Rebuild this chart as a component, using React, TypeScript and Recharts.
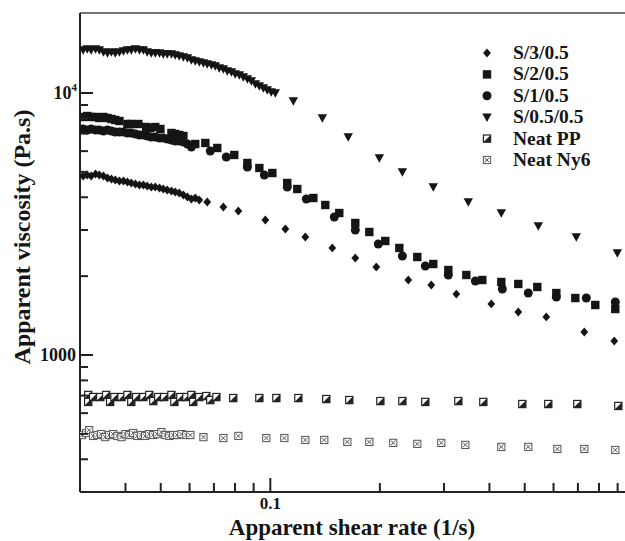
import { ScatterChart, Scatter, XAxis, YAxis, Legend, ReferenceLine } from 'recharts';

// S/0.5/0.5 (down triangles)
const s05Rate = [0.0306, 0.0314, 0.0322, 0.0331, 0.0339, 0.0348, 0.0357, 0.0366, 0.0375, 0.0385, 0.0395, 0.0405, 0.0415, 0.0426, 0.0437, 0.0448, 0.0459, 0.0471, 0.0483, 0.0496, 0.0508, 0.0521, 0.0535, 0.0548, 0.0562, 0.0577, 0.0592, 0.0607, 0.0622, 0.0638, 0.0655, 0.0671, 0.0689, 0.0706, 0.0724, 0.0743, 0.0762, 0.0782, 0.0801, 0.0822, 0.0843, 0.0865, 0.0887, 0.091, 0.0933, 0.0957, 0.0981, 0.1006, 0.1032, 0.1157, 0.139, 0.1637, 0.1993, 0.2306, 0.2804, 0.3499, 0.4312, 0.5449, 0.6929, 0.8982];
const s05Visc = [14593, 14722, 14593, 14722, 14593, 14339, 14214, 14339, 14214, 14339, 14466, 14593, 14593, 14722, 14593, 14593, 14339, 14214, 14214, 14214, 14089, 14089, 14089, 13966, 13844, 13723, 13603, 13366, 13249, 13134, 13019, 12905, 12793, 12681, 12460, 12351, 12136, 12030, 11820, 11717, 11513, 11313, 11116, 10828, 10639, 10449, 10267, 10088, 10000, 9321, 8028, 6794, 5650, 4994, 4377, 3837, 3483, 3108, 2821, 2451];

// S/2/0.5 (squares)
const s2Rate = [0.0306, 0.0314, 0.0322, 0.0331, 0.0339, 0.0348, 0.0357, 0.0366, 0.0375, 0.0385, 0.0405, 0.0415, 0.0434, 0.0456, 0.0468, 0.0483, 0.0499, 0.0535, 0.0548, 0.0562, 0.0577, 0.0622, 0.0663, 0.0715, 0.0796, 0.0865, 0.0933, 0.1013, 0.1113, 0.1186, 0.1313, 0.1416, 0.1547, 0.1712, 0.1871, 0.207, 0.2262, 0.2534, 0.2804, 0.3084, 0.3456, 0.3824, 0.4312, 0.4801, 0.5414, 0.6107, 0.6886, 0.7815, 0.8868];
const s2Visc = [8099, 8170, 8099, 8099, 8028, 8099, 8028, 7958, 7888, 7819, 7616, 7616, 7616, 7418, 7353, 7418, 7289, 7037, 6976, 6915, 6854, 6389, 6445, 6169, 5801, 5406, 5173, 4950, 4534, 4301, 3974, 3737, 3483, 3191, 2948, 2724, 2562, 2366, 2225, 2111, 2020, 1933, 1900, 1867, 1818, 1724, 1650, 1552, 1498];

// S/1/0.5 (circles)
const s1Rate = [0.0306, 0.0314, 0.0322, 0.0331, 0.0339, 0.0348, 0.0357, 0.0366, 0.0375, 0.0385, 0.0395, 0.0405, 0.0415, 0.0426, 0.0437, 0.0448, 0.0459, 0.0471, 0.0483, 0.0496, 0.0508, 0.0521, 0.0535, 0.0548, 0.0562, 0.0577, 0.0592, 0.0607, 0.0684, 0.0757, 0.0865, 0.0963, 0.1113, 0.1256, 0.1499, 0.1712, 0.198, 0.2306, 0.2666, 0.3084, 0.3659, 0.434, 0.5114, 0.6107, 0.7382, 0.8868];
const s1Visc = [7289, 7225, 7289, 7225, 7225, 7162, 7225, 7162, 7099, 7099, 7099, 7037, 7037, 6976, 6915, 6915, 6854, 6794, 6794, 6735, 6735, 6676, 6617, 6560, 6560, 6502, 6389, 6223, 6008, 5700, 5219, 4864, 4377, 3939, 3363, 3001, 2653, 2387, 2186, 2020, 1916, 1786, 1724, 1665, 1650, 1593];

// S/3/0.5 (diamonds)
const s3Rate = [0.0306, 0.0314, 0.0322, 0.0331, 0.0339, 0.0348, 0.0357, 0.0366, 0.0375, 0.0385, 0.0395, 0.0405, 0.0415, 0.0426, 0.0437, 0.0448, 0.0459, 0.0471, 0.0483, 0.0496, 0.0508, 0.0521, 0.0535, 0.0548, 0.0562, 0.0577, 0.0592, 0.0607, 0.0622, 0.0638, 0.0671, 0.0743, 0.0817, 0.0969, 0.11, 0.1248, 0.148, 0.1712, 0.1955, 0.2394, 0.2769, 0.3244, 0.4048, 0.4801, 0.5731, 0.7289, 0.8812];
const s3Visc = [4822, 4864, 4822, 4907, 4864, 4822, 4738, 4696, 4655, 4614, 4614, 4574, 4534, 4494, 4455, 4455, 4416, 4377, 4377, 4339, 4301, 4263, 4226, 4189, 4152, 4080, 4009, 3939, 3974, 3905, 3837, 3672, 3545, 3276, 3027, 2821, 2562, 2346, 2167, 1933, 1850, 1709, 1566, 1459, 1397, 1224, 1131];

// Neat PP
const ppRate = [0.0316, 0.0316, 0.0326, 0.0341, 0.0354, 0.0363, 0.0373, 0.039, 0.0405, 0.0415, 0.0428, 0.0448, 0.0465, 0.0477, 0.0492, 0.0511, 0.0535, 0.0545, 0.0566, 0.0588, 0.0607, 0.0614, 0.0638, 0.0667, 0.0684, 0.0711, 0.0791, 0.0933, 0.1039, 0.1194, 0.1425, 0.1648, 0.2006, 0.2306, 0.2666, 0.3285, 0.3848, 0.4924, 0.5804, 0.6974, 0.9038];
const ppVisc = [704, 662, 691, 691, 704, 662, 691, 691, 704, 662, 691, 691, 704, 667, 691, 691, 704, 662, 691, 691, 704, 662, 691, 697, 673, 691, 685, 685, 685, 685, 679, 673, 667, 667, 662, 667, 662, 650, 650, 650, 639];

// Neat Ny6
const nyRate = [0.0304, 0.0312, 0.0318, 0.0326, 0.0335, 0.0343, 0.0352, 0.0361, 0.037, 0.038, 0.039, 0.04, 0.041, 0.042, 0.0431, 0.0442, 0.0453, 0.0465, 0.0477, 0.0489, 0.0502, 0.0515, 0.0528, 0.0541, 0.0555, 0.057, 0.0588, 0.0603, 0.0655, 0.0743, 0.0817, 0.0975, 0.1093, 0.1248, 0.1407, 0.1628, 0.1871, 0.2177, 0.2534, 0.295, 0.3434, 0.4312, 0.5114, 0.6146, 0.7289, 0.8868];
const nyVisc = [495, 504, 517, 491, 495, 499, 486, 495, 499, 491, 486, 499, 495, 504, 491, 495, 491, 499, 495, 499, 508, 495, 491, 495, 495, 499, 495, 495, 486, 482, 491, 482, 482, 474, 474, 466, 466, 462, 458, 462, 454, 446, 446, 438, 438, 434];

const xTicks = [0.04, 0.05, 0.06, 0.07, 0.08, 0.09, 0.1, 0.2, 0.3, 0.4, 0.5, 0.6, 0.7, 0.8, 0.9];
const yTicks = [300, 400, 500, 600, 700, 800, 900, 1000, 2000, 3000, 4000, 5000, 6000, 7000, 8000, 9000, 10000];
const xLabeled = [0.1];
const yLabeled = [1000, 10000];

const FONT = '"Liberation Serif", "Times New Roman", serif';
const INK = '#151515';

const toPoints = (rate: number[], visc: number[]) => rate.map((x, i) => ({ x, y: visc[i] }));

function marker(kind: string, cx: number, cy: number) {
  switch (kind) {
    case 'diamond':
      return <path d={`M${cx},${cy - 4.4}L${cx + 3.9},${cy}L${cx},${cy + 4.4}L${cx - 3.9},${cy}Z`} fill={INK} />;
    case 'square':
      return <rect x={cx - 4.2} y={cy - 4.2} width={8.4} height={8.4} fill={INK} />;
    case 'circle':
      return <circle cx={cx} cy={cy} r={4.5} fill={INK} />;
    case 'triangle':
      return <path d={`M${cx - 4.7},${cy - 3.7}L${cx + 4.7},${cy - 3.7}L${cx},${cy + 4.7}Z`} fill={INK} />;
    case 'half':
      return (
        <g>
          <rect x={cx - 3.6} y={cy - 3.6} width={7.2} height={7.2} fill="#fff" stroke="#222" strokeWidth={1.2} />
          <path d={`M${cx + 3.6},${cy - 3.6}L${cx + 3.6},${cy + 3.6}L${cx - 3.6},${cy + 3.6}Z`} fill="#222" />
        </g>
      );
    default:
      return (
        <g stroke="#555" strokeWidth={1} fill="none">
          <rect x={cx - 3.6} y={cy - 3.6} width={7.2} height={7.2} fill="#fff" />
          <path d={`M${cx - 2.3},${cy - 2.3}L${cx + 2.3},${cy + 2.3}M${cx + 2.3},${cy - 2.3}L${cx - 2.3},${cy + 2.3}`} />
        </g>
      );
  }
}

const series = [
  { name: 'S/3/0.5', kind: 'diamond', data: toPoints(s3Rate, s3Visc) },
  { name: 'S/2/0.5', kind: 'square', data: toPoints(s2Rate, s2Visc) },
  { name: 'S/1/0.5', kind: 'circle', data: toPoints(s1Rate, s1Visc) },
  { name: 'S/0.5/0.5', kind: 'triangle', data: toPoints(s05Rate, s05Visc) },
  { name: 'Neat PP', kind: 'half', data: toPoints(ppRate, ppVisc) },
  { name: 'Neat Ny6', kind: 'boxx', data: toPoints(nyRate, nyVisc) },
];

function renderXTick(props: any) {
  const { x, y, payload } = props;
  const major = xLabeled.includes(payload.value);
  return (
    <g>
      <line x1={x} x2={x} y1={y} y2={y - (major ? 14 : 9)} stroke="#222" strokeWidth={2} />
      {major && (
        <text x={x} y={y + 17} textAnchor="middle" fontFamily={FONT} fontWeight="bold" fontSize={17} fill={INK}>
          {payload.value}
        </text>
      )}
    </g>
  );
}

function renderYTick(props: any) {
  const { x, y, payload } = props;
  const major = yLabeled.includes(payload.value);
  let label = null;
  if (payload.value === 1000) {
    label = (
      <text x={x - 4} y={y + 6} textAnchor="end" fontFamily={FONT} fontWeight="bold" fontSize={18} fill={INK}>
        1000
      </text>
    );
  } else if (payload.value === 10000) {
    label = (
      <text x={x - 3} y={y + 6} textAnchor="end" fontFamily={FONT} fontWeight="bold" fontSize={18} fill={INK}>
        10<tspan dy={-8} fontSize={11}>4</tspan>
      </text>
    );
  }
  return (
    <g>
      <line x1={x} x2={x + (major ? 13 : 8)} y1={y} y2={y} stroke="#222" strokeWidth={2} />
      {label}
    </g>
  );
}

function renderLegend() {
  return (
    <svg width={145} height={132}>
      {series.map((s, i) => {
        const cy = 11 + i * 21.4;
        return (
          <g key={s.name}>
            {marker(s.kind, 9, cy)}
            <text x={35} y={cy + 6} fontFamily={FONT} fontWeight="bold" fontSize={19.5} fill={INK}>
              {s.name}
            </text>
          </g>
        );
      })}
    </svg>
  );
}

export default function App() {
  return (
    <div style={{ position: 'absolute', left: 0, top: 0, width: 625, height: 541, overflow: 'hidden', background: '#fff' }}>
      <ScatterChart width={625} height={541} margin={{ top: 13, right: 0, bottom: 19, left: 20 }}>
        <XAxis
          dataKey="x"
          type="number"
          scale="log"
          domain={[0.03, 0.943]}
          allowDataOverflow
          ticks={xTicks}
          interval={0}
          tickSize={0}
          tickMargin={0}
          tickLine={false}
          axisLine={{ stroke: '#222', strokeWidth: 2 }}
          tick={renderXTick}
          height={30}
        />
        <YAxis
          dataKey="y"
          type="number"
          scale="log"
          domain={[300, 20200]}
          allowDataOverflow
          ticks={yTicks}
          interval={0}
          tickSize={0}
          tickMargin={0}
          tickLine={false}
          axisLine={{ stroke: '#222', strokeWidth: 2 }}
          tick={renderYTick}
          width={60}
        />
        <ReferenceLine y={20200} stroke="#444" strokeWidth={1.5} />
        {series.map((s) => (
          <Scatter
            key={s.name}
            name={s.name}
            data={s.data}
            fill={INK}
            isAnimationActive={false}
            shape={(p: any) => marker(s.kind, p.cx, p.cy)}
          />
        ))}
        <Legend
          content={renderLegend}
          layout="vertical"
          align="center"
          verticalAlign="middle"
          wrapperStyle={{ left: 478, top: 42, width: 145, height: 132 }}
        />
        <text x={352} y={535} textAnchor="middle" fontFamily={FONT} fontWeight="bold" fontSize={23} fill={INK}>
          Apparent shear rate (1/s)
        </text>
        <text
          transform="rotate(-90)"
          x={-237}
          y={30}
          textAnchor="middle"
          fontFamily={FONT}
          fontWeight="bold"
          fontSize={24}
          fill={INK}
        >
          Apparent viscosity (Pa.s)
        </text>
      </ScatterChart>
    </div>
  );
}
